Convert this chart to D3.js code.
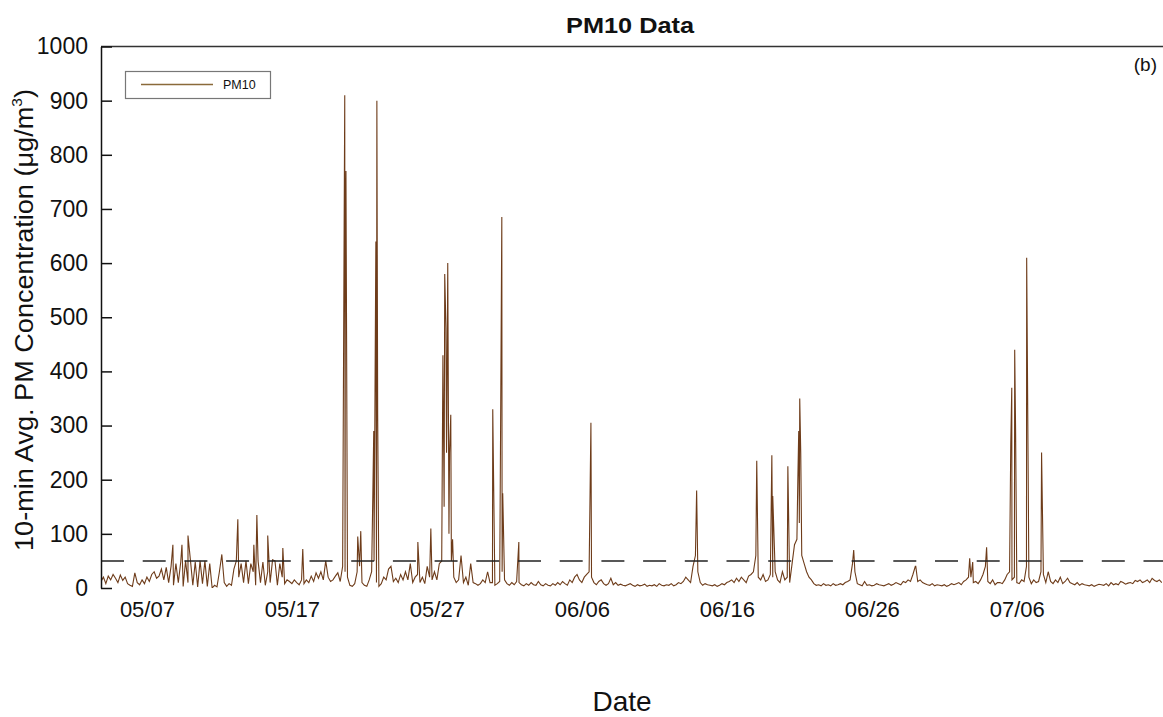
<!DOCTYPE html>
<html>
<head>
<meta charset="utf-8">
<script src="https://cdn.jsdelivr.net/npm/d3@7"></script>
<style>
  body { margin: 0; background: #fff; }
  text { font-family: "Liberation Sans", Arial, sans-serif; fill: #111; }
</style>
</head>
<body>
<svg width="1163" height="717"></svg>
<script>
// ---- data ----
const yTicks = [0, 100, 200, 300, 400, 500, 600, 700, 800, 900, 1000];
const xTickLabels = ["05/07", "05/17", "05/27", "06/06", "06/16", "06/26", "07/06"];
const year = 2008;
const limitValue = 50; // dashed reference line

// low-level PM10 (µg/m³), 4-hour steps from 05/03 20:00, one row per day
const baseStart = "05-03 20:00";
const baseStepHours = 4;
const baseline = [
  [12, 20, 8, 22, 15, 25],
  [18, 10, 24, 14, 20, 8],
  [5, 3, 28, 10, 6, 15],
  [8, 20, 12, 25, 30, 18],
  [22, 35, 15, 38, 10, 40],
  [5, 45, 10, 48, 3, 50],
  [10, 52, 5, 48, 2, 50],
  [8, 50, 3, 45, 0, 5],
  [2, 30, 62, 10, 3, 8],
  [5, 35, 50, 20, 45, 10],
  [50, 8, 45, 30, 5, 50],
  [10, 48, 5, 30, 10, 52],
  [50, 5, 45, 20, 8, 15],
  [12, 8, 15, 10, 6, 15],
  [8, 15, 10, 22, 12, 28],
  [18, 30, 15, 50, 20, 12],
  [15, 22, 28, 12, 40, 30],
  [20, 5, 3, 8, 30, 40],
  [10, 5, 3, 15, 30, 50],
  [10, 3, 8, 20, 15, 35],
  [40, 12, 18, 10, 25, 15],
  [30, 15, 45, 10, 20, 25],
  [10, 20, 8, 40, 20, 15],
  [30, 15, 45, 50, 150, 250],
  [100, 50, 20, 10, 15, 60],
  [10, 20, 5, 45, 10, 8],
  [5, 8, 15, 10, 30, 10],
  [10, 5, 8, 12, 30, 15],
  [8, 5, 10, 6, 12, 10],
  [6, 4, 8, 5, 10, 6],
  [5, 12, 6, 4, 8, 5],
  [4, 8, 5, 10, 6, 12],
  [8, 5, 15, 10, 20, 25],
  [15, 10, 20, 25, 30, 20],
  [10, 6, 12, 15, 8, 5],
  [8, 18, 6, 10, 5, 7],
  [5, 4, 6, 8, 5, 3],
  [6, 4, 5, 7, 3, 5],
  [4, 6, 3, 8, 5, 4],
  [6, 5, 8, 4, 6, 10],
  [8, 12, 20, 15, 10, 40],
  [60, 30, 10, 5, 8, 6],
  [5, 4, 6, 3, 5, 8],
  [6, 10, 12, 15, 10, 18],
  [12, 20, 15, 10, 22, 25],
  [30, 60, 20, 15, 25, 12],
  [15, 25, 20, 30, 15, 10],
  [30, 15, 20, 10, 45, 80],
  [90, 120, 60, 45, 30, 20],
  [15, 8, 5, 6, 4, 8],
  [5, 6, 4, 8, 5, 6],
  [8, 6, 10, 12, 15, 45],
  [30, 8, 6, 4, 12, 5],
  [6, 4, 5, 8, 6, 5],
  [4, 6, 8, 5, 7, 10],
  [8, 6, 12, 10, 15, 12],
  [25, 40, 12, 15, 10, 8],
  [6, 5, 8, 4, 6, 5],
  [4, 6, 3, 5, 8, 6],
  [8, 10, 6, 12, 15, 20],
  [20, 10, 12, 8, 15, 25],
  [40, 12, 8, 15, 6, 10],
  [10, 8, 15, 25, 30, 15],
  [20, 10, 8, 15, 12, 40],
  [20, 8, 15, 10, 12, 30],
  [25, 10, 30, 12, 8, 15],
  [10, 20, 8, 12, 18, 10],
  [8, 6, 10, 5, 8, 6],
  [5, 4, 6, 3, 5, 7],
  [6, 5, 8, 4, 10, 6],
  [8, 6, 12, 10, 7, 9],
  [10, 8, 14, 12, 15, 10],
  [12, 15, 10, 18, 14, 12],
  [15, 10]
];

// short dust episodes (10-min peaks)
const spikes = [
  ["05-08 19:00", 80], ["05-09 10:00", 80], ["05-09 20:00", 97],
  ["05-13 06:30", 127], ["05-14 09:00", 80], ["05-14 14:00", 135],
  ["05-15 08:00", 97], ["05-16 09:00", 74], ["05-17 18:00", 72],
  ["05-20 14:30", 670], ["05-20 15:30", 910], ["05-20 16:30", 575], ["05-20 17:30", 770],
  ["05-21 13:00", 95], ["05-21 18:00", 105],
  ["05-22 14:00", 175], ["05-22 15:30", 290], ["05-22 19:00", 640], ["05-22 20:40", 900], ["05-22 22:00", 320],
  ["05-25 16:30", 85], ["05-26 14:00", 110],
  ["05-27 10:00", 430], ["05-27 13:00", 580], ["05-27 15:00", 480], ["05-27 16:30", 300],
  ["05-27 18:00", 600], ["05-27 21:00", 250], ["05-27 23:00", 320], ["05-28 02:00", 90],
  ["05-30 20:30", 330], ["05-31 11:30", 685], ["05-31 13:00", 175],
  ["06-01 15:40", 85], ["06-06 15:00", 305], ["06-13 22:00", 180],
  ["06-18 01:30", 235], ["06-19 02:30", 245], ["06-19 04:00", 170],
  ["06-20 05:00", 225],
  ["06-20 21:30", 200], ["06-20 23:00", 290], ["06-21 00:40", 350], ["06-21 02:20", 250],
  ["06-24 18:00", 70], ["06-29 00:45", 40],
  ["07-02 18:00", 55], ["07-02 23:00", 48], ["07-03 22:00", 75],
  ["07-05 14:00", 265], ["07-05 15:40", 370], ["07-05 20:30", 440], ["07-05 22:00", 290],
  ["07-06 16:20", 610], ["07-07 17:00", 250]
];

// ---- chart ----
const svg = d3.select("svg");
const margin = { left: 101, right: 0, top: 46.5, bottom: 129 };
const W = 1163, H = 717;

const parse = d3.timeParse("%Y-%m-%d %H:%M");
const parseTick = d3.timeParse("%Y/%m/%d");
const t0 = parse(`${year}-${baseStart}`);

let series = baseline.flat().map((v, i) => ({ t: d3.timeHour.offset(t0, i * baseStepHours), v }));
spikes.forEach(([s, v]) => series.push({ t: parse(`${year}-${s}`), v }));
series.sort((a, b) => a.t - b.t);

const x = d3.scaleTime()
  .domain([t0, parse(`${year}-07-16 02:00`)])
  .range([margin.left, W - margin.right]);
const y = d3.scaleLinear().domain([0, 1000]).range([H - margin.bottom, margin.top]);

svg.append("clipPath").attr("id", "plot")
  .append("rect")
  .attr("x", margin.left).attr("y", margin.top - 2)
  .attr("width", W - margin.left).attr("height", y(0) - margin.top + 2);

// data line
svg.append("path")
  .datum(series)
  .attr("clip-path", "url(#plot)")
  .attr("fill", "none")
  .attr("stroke", "#6e3c1a")
  .attr("stroke-width", 1.1)
  .attr("d", d3.line().x(d => x(d.t)).y(d => y(d.v)));

// limit line
svg.append("line")
  .attr("x1", margin.left).attr("x2", W)
  .attr("y1", y(limitValue)).attr("y2", y(limitValue))
  .attr("stroke", "#222").attr("stroke-width", 1.4)
  .attr("stroke-dasharray", "23,18.7");

// frame
svg.append("line")
  .attr("x1", margin.left).attr("x2", W)
  .attr("y1", margin.top).attr("y2", margin.top)
  .attr("stroke", "#333").attr("stroke-width", 1.5);

// y axis
const yAxis = svg.append("g")
  .attr("transform", `translate(${margin.left},0)`)
  .call(d3.axisLeft(y).tickValues(yTicks).tickFormat(d3.format("d"))
    .tickSizeInner(-11).tickSizeOuter(0).tickPadding(13));
yAxis.select(".domain").attr("stroke", "#111").attr("stroke-width", 1.5);
yAxis.selectAll(".tick line").attr("stroke", "#111").attr("stroke-width", 1.5);
yAxis.selectAll(".tick text").attr("font-size", 23).attr("font-family", "Liberation Sans, Arial, sans-serif").attr("fill", "#111");

// x axis (labels only)
const xTicks = xTickLabels.map(s => parseTick(`${year}/${s}`));
const xAxis = svg.append("g")
  .attr("transform", `translate(0,${y(0)})`)
  .call(d3.axisBottom(x).tickValues(xTicks).tickFormat(d3.timeFormat("%m/%d")).tickSize(0).tickPadding(13));
xAxis.select(".domain").remove();
xAxis.selectAll(".tick text").attr("font-size", 22).attr("font-family", "Liberation Sans, Arial, sans-serif").attr("fill", "#111");

// titles
svg.append("text")
  .attr("x", 630).attr("y", 33)
  .attr("text-anchor", "middle")
  .attr("font-size", 22).attr("font-weight", "bold")
  .attr("textLength", 128).attr("lengthAdjust", "spacingAndGlyphs")
  .text("PM10 Data");

svg.append("text")
  .attr("x", 622).attr("y", 711)
  .attr("text-anchor", "middle")
  .attr("font-size", 28)
  .text("Date");

const yl = svg.append("text")
  .attr("transform", "translate(33,320) rotate(-90)")
  .attr("text-anchor", "middle")
  .attr("font-size", 26)
  .attr("textLength", 462).attr("lengthAdjust", "spacingAndGlyphs");
yl.append("tspan").text("10-min Avg. PM Concentration (μg/m");
yl.append("tspan").attr("font-size", 15).attr("dy", -11).text("3");
yl.append("tspan").attr("dy", 11).text(")");

svg.append("text")
  .attr("x", 1157).attr("y", 71)
  .attr("text-anchor", "end")
  .attr("font-size", 19)
  .text("(b)");

// legend
const lg = svg.append("g");
lg.append("rect")
  .attr("x", 125.5).attr("y", 71.5).attr("width", 145).attr("height", 27)
  .attr("fill", "#fff").attr("stroke", "#777").attr("stroke-width", 1.2);
lg.append("line")
  .attr("x1", 141).attr("x2", 213).attr("y1", 84.5).attr("y2", 84.5)
  .attr("stroke", "#8a6a3a").attr("stroke-width", 1.3);
lg.append("text")
  .attr("x", 223).attr("y", 89)
  .attr("font-size", 12.5)
  .text("PM10");
</script>
</body>
</html>
